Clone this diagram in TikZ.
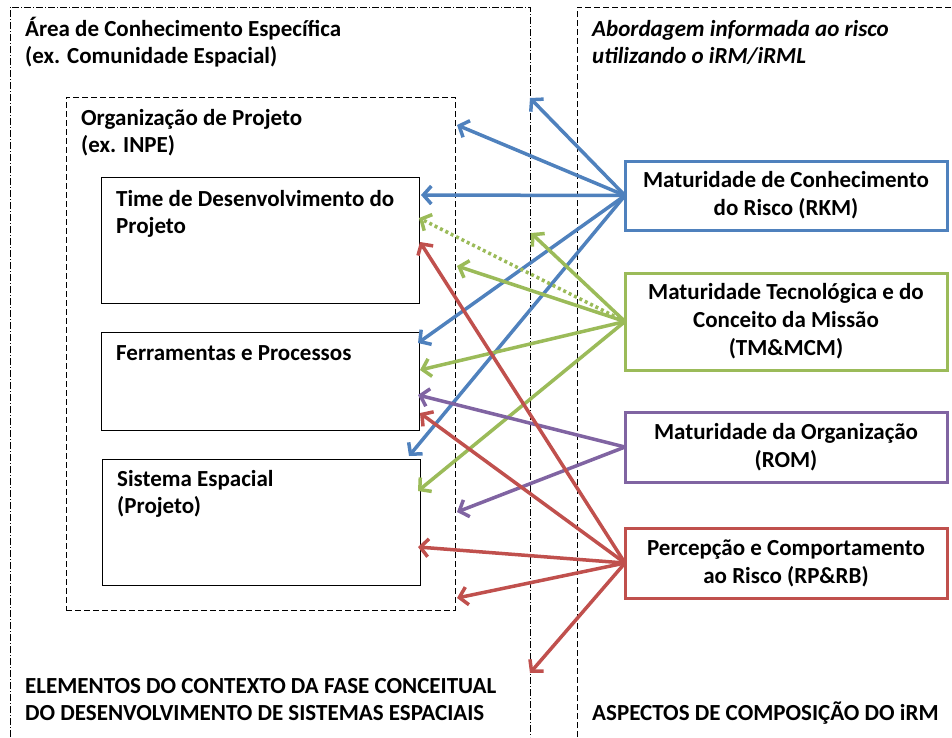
\documentclass[tikz,border=0pt]{standalone}
\usepackage{fontspec}
\setmainfont{Carlito}
\usetikzlibrary{arrows.meta,positioning}
\definecolor{rkmblue}{RGB}{79,129,189}
\definecolor{tmgreen}{RGB}{155,187,89}
\definecolor{rompurple}{RGB}{128,100,162}
\definecolor{rpred}{RGB}{192,80,77}
\tikzset{
  txt/.style={anchor=base west, inner sep=0pt, align=left, font=\bfseries\fontsize{23}{27}\selectfont},
  longdash/.style={dash pattern=on 6pt off 3pt},
  elembox/.style={draw, line width=1pt, outer sep=0pt, minimum width=318pt, anchor=north west},
  riskbox/.style={draw, line width=3pt, outer sep=0pt, minimum width=322pt, align=center, anchor=north west, font=\bfseries\fontsize{23}{28}\selectfont},
  link/.style={line width=3.5pt, -{Straight Barb[length=8pt,width=18pt,line width=3.5pt]}},
}
\begin{document}
\begin{tikzpicture}[x=1pt, y=-1pt]
    \useasboundingbox (0,0) rectangle (952,737);
    \draw[dash pattern=on 7pt off 2pt on 1pt off 2pt] (10,737) -- (10,7) -- (530,7) -- (530,737);
    \draw[longdash] (577,737) -- (577,7) -- (952,7);

    \node (org) [draw, longdash, outer sep=0pt, minimum width=389pt, minimum height=513pt, anchor=north west] at (66,97) {};
    \node (tdp) [elembox, minimum height=126pt] at (101,177) {};
    \node (fep) [elembox, minimum height=98pt] at (101,332) {};
    \node (sep) [elembox, minimum height=126pt] at (102,459) {};

    \node (area) [txt] at (25,63) {Área de Conhecimento Específica\\(ex. Comunidade Espacial)};
    \node (abord) [txt, font=\bfseries\itshape\fontsize{23}{27}\selectfont] at (592,63) {Abordagem informada ao risco\\utilizando o iRM/iRML};
    \node (orgtxt) [txt] at (81,152) {Organização de Projeto\\(ex. INPE)};
    \node (tdptxt) [txt] at (116,233) {Time de Desenvolvimento do\\Projeto};
    \node (feptxt) [txt] at (116,360) {Ferramentas e Processos};
    \node (septxt) [txt] at (117,513) {Sistema Espacial\\(Projeto)};
    \node (elem) [txt] at (25,720) {ELEMENTOS DO CONTEXTO DA FASE CONCEITUAL\\DO DESENVOLVIMENTO DE SISTEMAS ESPACIAIS};
    \node (aspec) [txt] at (592,720) {ASPECTOS DE COMPOSIÇÃO DO iRM};

    \node (rkm) [riskbox, draw=rkmblue, minimum height=69pt] at (625,161) {Maturidade de Conhecimento\\do Risco (RKM)};
    \node (tm) [riskbox, draw=tmgreen, minimum height=97pt] at (625,273) {Maturidade Tecnológica e do\\Conceito da Missão\\(TM\&MCM)};
    \node (rom) [riskbox, draw=rompurple, minimum height=70pt] at (625,412) {Maturidade da Organização\\(ROM)};
    \node (rp) [riskbox, draw=rpred, minimum height=70pt] at (625,528) {Percepção e Comportamento\\ao Risco (RP\&RB)};

    \coordinate (kArea) at (530,98);
    \coordinate (kOrg) at (457,125);
    \coordinate (kTime) at (421,195);
    \coordinate (kFerr) at (418,343);
    \coordinate (kSis) at (409,456);
    \coordinate (tTime) at (419,218);
    \coordinate (tArea) at (531,233);
    \coordinate (tOrg) at (457,266);
    \coordinate (tFerr) at (420,370);
    \coordinate (tSis) at (418,491);
    \coordinate (oFerr) at (418,395);
    \coordinate (oOrg) at (457,512);
    \coordinate (pTime) at (420,242);
    \coordinate (pFerr) at (420,413);
    \coordinate (pSis) at (418,547);
    \coordinate (pOrg) at (457,598);
    \coordinate (pArea) at (530,673);

    \foreach \e in {kArea,kOrg,kTime,kFerr,kSis}
        \draw[link, rkmblue] (rkm.west) -- (\e);
    \draw[link, tmgreen, dash pattern=on 3pt off 3pt] (tm.west) -- (tTime);
    \foreach \e in {tArea,tOrg,tFerr,tSis}
        \draw[link, tmgreen] (tm.west) -- (\e);
    \foreach \e in {oFerr,oOrg}
        \draw[link, rompurple] (rom.west) -- (\e);
    \foreach \e in {pTime,pFerr,pSis,pOrg,pArea}
        \draw[link, rpred] (rp.west) -- (\e);
\end{tikzpicture}
\end{document}
